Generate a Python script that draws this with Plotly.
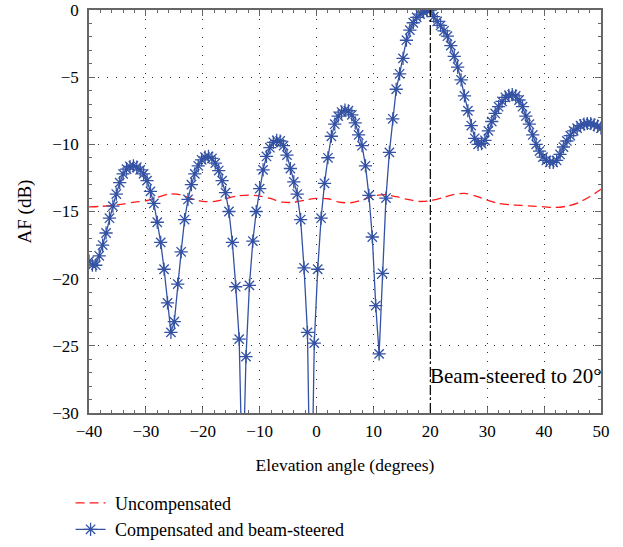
import plotly.graph_objects as go

# Compensated and beam-steered pattern, sampled every 0.6 degrees from -40 to 50
comp_angles = [round(-40 + 0.6 * i, 1) for i in range(151)]
comp_af = [
    -18.7, -19.0, -19.0, -18.3, -17.5, -16.6, -15.5, -14.6, -13.7, -12.85,
    -12.2, -11.85, -11.65, -11.6, -11.7, -11.9, -12.2, -12.7, -13.5, -14.4,
    -15.8, -17.3, -19.3, -21.8, -24.0, -23.2, -20.4, -18.0, -15.6, -14.1,
    -13.0, -12.2, -11.6, -11.15, -10.95, -10.9, -11.05, -11.4, -11.95, -12.7,
    -13.6, -15.0, -17.3, -20.6, -24.5, -36.0, -25.8, -20.5, -17.2, -15.0,
    -13.3, -11.9, -10.9, -10.25, -9.85, -9.7, -9.75, -10.1, -10.8, -11.8,
    -12.8, -13.7, -15.6, -19.2, -24.0, -40.0, -24.8, -19.3, -15.5, -12.9,
    -11.0, -9.4, -8.5, -7.9, -7.6, -7.45, -7.5, -7.8, -8.4, -9.3,
    -10.1, -11.6, -13.8, -16.9, -22.0, -25.6, -19.6, -14.0, -10.6, -8.1,
    -5.9, -4.75, -3.6, -2.25, -1.5, -0.95, -0.55, -0.3, -0.15, -0.05,
    0.0, -0.5, -0.85, -1.15, -1.55, -1.95, -2.65, -3.45, -4.25, -5.2,
    -6.4, -7.5, -8.6, -9.55, -10.0, -9.95, -9.7, -9.0, -8.3, -7.7,
    -7.2, -6.8, -6.5, -6.35, -6.3, -6.4, -6.7, -7.2, -7.9, -8.5,
    -9.3, -10.0, -10.5, -10.95, -11.2, -11.35, -11.35, -11.2, -10.75, -10.2,
    -9.75, -9.35, -9.0, -8.8, -8.6, -8.5, -8.45, -8.45, -8.55, -8.65,
    -8.8,
]

# Uncompensated pattern, every 2 degrees
unc_angles = list(range(-40, 51, 2))
unc_af = [
    -14.65, -14.62, -14.55, -14.45, -14.3, -14.2, -13.95, -13.7, -13.75, -14.05,
    -14.25, -14.25, -14.05, -13.85, -13.78, -13.85, -14.05, -14.3, -14.32, -14.15,
    -14.02, -14.05, -14.3, -14.35, -14.15, -13.85, -13.75, -13.9, -14.1, -14.25,
    -14.2, -14.0, -13.75, -13.65, -13.85, -14.15, -14.4, -14.5, -14.55, -14.6,
    -14.65, -14.7, -14.6, -14.35, -13.9, -13.35,
]

steer_angle = 20
x_ticks = [-40, -30, -20, -10, 0, 10, 20, 30, 40, 50]
y_ticks = [-30, -25, -20, -15, -10, -5, 0]

FONT = "Liberation Serif"
BLUE = "#3452a4"
RED = "#ff1a1a"
PAD = "\u00a0"

fig = go.Figure()
fig.add_trace(go.Scatter(
    x=unc_angles, y=unc_af, mode="lines", name=PAD + "Uncompensated",
    line=dict(color=RED, width=1.3, dash="9px,5px", shape="spline", smoothing=0.8),
))
fig.add_trace(go.Scatter(
    x=comp_angles, y=comp_af, mode="lines+markers", name=PAD + "Compensated and beam-steered",
    line=dict(color=BLUE, width=1.3),
    marker=dict(symbol="asterisk-open", size=11, color=BLUE, line=dict(color=BLUE, width=1.3)),
    cliponaxis=True,
))

fig.add_shape(type="line", x0=steer_angle, x1=steer_angle, y0=-30, y1=0,
              xref="x", yref="y", line=dict(color="black", width=1.2, dash="10px,3px,2px,3px"))
fig.add_annotation(x=steer_angle, y=-27.25, xref="x", yref="y", text="Beam-steered to 20°",
                   showarrow=False, xanchor="left", yanchor="middle",
                   font=dict(family=FONT, size=21, color="black"), xshift=-2)

axis_common = dict(
    showline=True, linecolor="#666", linewidth=1.5, mirror="ticks",
    ticks="inside", ticklen=6, tickcolor="#666", tickwidth=1,
    showgrid=True, gridcolor="#333", gridwidth=1, griddash="1px,8px",
    zeroline=False, automargin=False, ticklabeloverflow="allow",
    tickfont=dict(family=FONT, size=17, color="black"),
)

fig.update_xaxes(
    range=[-40, 50], tickvals=x_ticks, **axis_common, ticklabelstandoff=2,
    minor=dict(dtick=2, ticks="inside", ticklen=3, tickcolor="#666", showgrid=False),
    title=dict(text="Elevation angle (degrees)", font=dict(family=FONT, size=17.5, color="black"), standoff=19),
)
fig.update_yaxes(
    range=[-30, 0], tickvals=y_ticks, **axis_common, ticklabelstandoff=5,
    minor=dict(dtick=1, ticks="inside", ticklen=3, tickcolor="#666", showgrid=False),
    title=dict(text="AF (dB)", font=dict(family=FONT, size=19, color="black"), standoff=16),
)

fig.update_layout(
    width=623, height=547,
    margin=dict(l=89, r=22, t=10, b=134, autoexpand=False),
    plot_bgcolor="white", paper_bgcolor="white",
    showlegend=True,
    legend=dict(x=-0.036, y=-0.178, xanchor="left", yanchor="top",
                font=dict(family=FONT, size=18, color="black"),
                bgcolor="rgba(0,0,0,0)", tracegroupgap=0, itemwidth=30),
)

# remove the default 8px body margin so the figure sits at the page origin
fig.write_html("out.html", config={"displayModeBar": False},
               post_script="document.body.style.margin='0px';")
